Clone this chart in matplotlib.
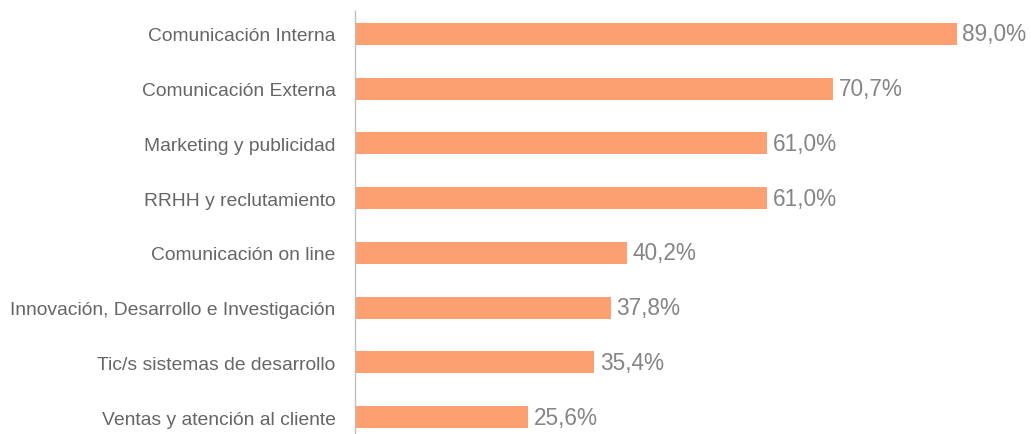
import matplotlib
matplotlib.use("Agg")
import matplotlib.pyplot as plt

categories = [
    "Comunicación Interna",
    "Comunicación Externa",
    "Marketing y publicidad",
    "RRHH y reclutamiento",
    "Comunicación on line",
    "Innovación, Desarrollo e Investigación",
    "Tic/s sistemas de desarrollo",
    "Ventas y atención al cliente",
]
values = [89.0, 70.7, 61.0, 61.0, 40.2, 37.8, 35.4, 25.6]
value_labels = ["89,0%", "70,7%", "61,0%", "61,0%", "40,2%", "37,8%", "35,4%", "25,6%"]

plt.rcParams["font.family"] = ["Liberation Sans", "DejaVu Sans"]

fig = plt.figure(figsize=(10.31, 4.35), dpi=100)
ax = fig.add_axes([0.3443, 0.0, 0.6557, 0.9724])

positions = list(range(len(categories)))
bars = ax.barh(positions, values, height=0.40, color="#FCA072", edgecolor="none")

for bar, lab in zip(bars, value_labels):
    ax.annotate(lab, xy=(bar.get_width(), bar.get_y() + bar.get_height() / 2),
                xytext=(4, 0), textcoords="offset points",
                ha="left", va="center", fontsize=16.3, color="#858585")

ax.set_xlim(0, 100)
ax.set_ylim(7.31, -0.42)
ax.set_yticks(positions)
ax.set_yticklabels(categories, fontsize=13.9, color="#666666")
ax.tick_params(axis="y", length=0, pad=14)
ax.set_xticks([])

for side in ("top", "right", "bottom"):
    ax.spines[side].set_visible(False)
ax.spines["left"].set_color("#BFBFBF")
ax.spines["left"].set_linewidth(1.0)

fig.savefig("out.png", dpi=100)
